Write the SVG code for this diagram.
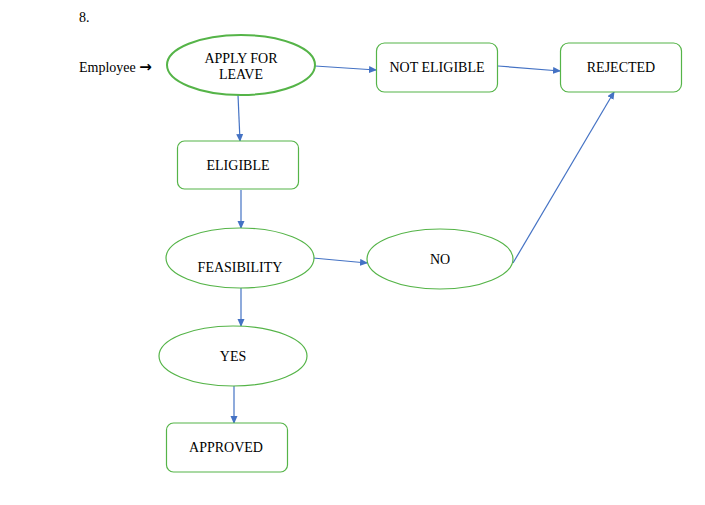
<svg xmlns="http://www.w3.org/2000/svg" width="705" height="505" viewBox="0 0 705 505">
<style>
text{font-family:"Liberation Serif","Times New Roman",serif;font-size:14px;fill:#000}
.n{fill:#fff;stroke:#55b448;stroke-width:1.2}
.c{stroke:#4472c4;stroke-width:1.2;fill:none;marker-end:url(#ah)}
.t{text-anchor:middle}
.ar{font-family:"DejaVu Sans",sans-serif;font-weight:bold;font-size:15px}
</style>
<defs>
<marker id="ah" markerWidth="8" markerHeight="8" refX="7" refY="3.5" orient="auto" markerUnits="userSpaceOnUse">
<path d="M0,0 L8,3.5 L0,7 Z" fill="#4472c4"/>
</marker>
</defs>
<rect width="705" height="505" fill="#fff"/>
<text x="79" y="22">8.</text>
<text x="79" y="72">Employee <tspan class="ar">→</tspan></text>
<g id="connectors">
<line class="c" x1="315" y1="66" x2="376" y2="70"/>
<line class="c" x1="498" y1="66" x2="560" y2="71"/>
<line class="c" x1="238" y1="95" x2="240" y2="141"/>
<line class="c" x1="241" y1="190" x2="241" y2="228"/>
<line class="c" x1="313" y1="258" x2="367" y2="263"/>
<line class="c" x1="513" y1="263" x2="614" y2="92"/>
<line class="c" x1="241" y1="288" x2="241" y2="326"/>
<line class="c" x1="234" y1="386" x2="234" y2="423"/>
</g>
<g id="apply">
<ellipse class="n" cx="241" cy="65" rx="74" ry="30" style="stroke-width:2"/>
<text class="t" x="241" y="63">APPLY FOR</text>
<text class="t" x="241" y="79">LEAVE</text>
</g>
<g id="not-eligible">
<rect class="n" x="376.5" y="43" width="121" height="49" rx="8"/>
<text class="t" x="437" y="72">NOT ELIGIBLE</text>
</g>
<g id="rejected">
<rect class="n" x="560.5" y="43" width="121" height="49" rx="8"/>
<text class="t" x="621" y="72">REJECTED</text>
</g>
<g id="eligible">
<rect class="n" x="177.5" y="141" width="121" height="48" rx="7"/>
<text class="t" x="238" y="170">ELIGIBLE</text>
</g>
<g id="feasibility">
<ellipse class="n" cx="240" cy="258" rx="74" ry="30"/>
<text class="t" x="240" y="272">FEASIBILITY</text>
</g>
<g id="no">
<ellipse class="n" cx="440" cy="259" rx="73" ry="30"/>
<text class="t" x="440" y="264">NO</text>
</g>
<g id="yes">
<ellipse class="n" cx="233" cy="356" rx="74" ry="30"/>
<text class="t" x="233" y="361">YES</text>
</g>
<g id="approved">
<rect class="n" x="166.5" y="423" width="121" height="49" rx="7"/>
<text class="t" x="226" y="452">APPROVED</text>
</g>
</svg>
